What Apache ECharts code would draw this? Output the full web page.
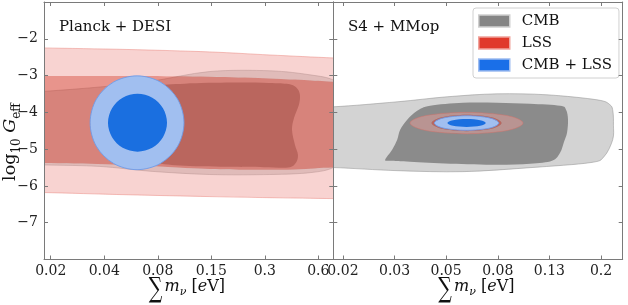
<!DOCTYPE html>
<html><head><meta charset="utf-8">
<script src="https://cdn.jsdelivr.net/npm/echarts@6/dist/echarts.min.js"></script>
<style>html,body{margin:0;padding:0;background:#fff}#c{width:628px;height:305px}</style>
</head><body><div id="c"></div>
<script>
// ---------------- data ----------------
const xRangeLeft = [0.01836, 0.726];
const xRangeRight = [0.01835, 0.2427];
const yRange = [-8, -1];
const leftTicks = [0.02, 0.0395, 0.078, 0.154, 0.304, 0.6];
const leftTickLabels = ['0.02', '0.04', '0.08', '0.15', '0.3', '0.6'];
const rightTicks = [0.02, 0.0317, 0.0502, 0.0796, 0.1262, 0.2];
const rightTickLabels = ['0.02', '0.03', '0.05', '0.08', '0.13', '0.2'];
const yTicks = [-7, -6, -5, -4, -3, -2];
const panelTitles = ['Planck + DESI', 'S4 + MMop'];
const legendNames = ['CMB', 'LSS', 'CMB + LSS'];

// contour outlines: [sum m_nu (eV), log10 G_eff]
// Planck + DESI
const cmb2Left = [[0.008,-3.55],[0.01836,-3.43],[0.0374,-3.31],[0.0706,-3.16],[0.151,-2.89],[0.324,-2.87],[0.54,-2.98],[0.726,-3.12],[0.86,-3.45],[0.92,-4.3],[0.86,-5.15],[0.726,-5.5],[0.54,-5.64],[0.324,-5.69],[0.151,-5.69],[0.0706,-5.6],[0.0374,-5.47],[0.01836,-5.43],[0.008,-5.41]];
const cmb1Left = [[0.075,-3.30],[0.11,-3.22],[0.2,-3.19],[0.32,-3.2],[0.41,-3.23],[0.455,-3.33],[0.475,-3.52],[0.469,-3.79],[0.4406,-4.15],[0.4295,-4.47],[0.4458,-4.88],[0.4632,-5.15],[0.4515,-5.37],[0.4085,-5.5],[0.3,-5.49],[0.2,-5.48],[0.11,-5.45],[0.075,-5.35],[0.058,-5.0],[0.053,-4.3],[0.058,-3.65]];
const lss2Left = [[0.01,-2.22],[0.01836,-2.248],[0.0527,-2.29],[0.151,-2.357],[0.324,-2.44],[0.726,-2.52],[1.3,-2.56],[1.3,-6.37],[0.726,-6.345],[0.324,-6.32],[0.151,-6.29],[0.0527,-6.24],[0.01836,-6.18],[0.01,-6.16]];
const lss1Left = [[0.01,-3.0],[0.01836,-3.01],[0.06,-3.01],[0.15,-3.03],[0.3,-3.07],[0.5,-3.12],[0.726,-3.17],[1.3,-3.24],[1.3,-5.5],[0.726,-5.5],[0.45,-5.55],[0.25,-5.56],[0.151,-5.54],[0.08,-5.47],[0.04,-5.41],[0.01836,-5.376],[0.01,-5.36]];
const both2Left = [[0.1088,-4.283],[0.1004,-3.645],[0.0807,-3.178],[0.0599,-3.008],[0.0444,-3.178],[0.0357,-3.645],[0.0330,-4.283],[0.0357,-4.920],[0.0444,-5.387],[0.0599,-5.558],[0.0807,-5.387],[0.1004,-4.920]];
const both1Left = [[0.0877,-4.283],[0.0833,-3.889],[0.0727,-3.602],[0.0603,-3.496],[0.0499,-3.602],[0.0436,-3.889],[0.0414,-4.283],[0.0436,-4.676],[0.0499,-4.964],[0.0603,-5.069],[0.0727,-4.964],[0.0833,-4.676]];
// S4 + MMop
const cmb2Right = [[0.012,-3.87],[0.01834,-3.849],[0.03245,-3.713],[0.0507,-3.577],[0.0791,-3.496],[0.1236,-3.523],[0.193,-3.659],[0.2167,-3.794],[0.2225,-3.984],[0.2235,-4.35],[0.222,-4.744],[0.2054,-5.205],[0.1813,-5.368],[0.1062,-5.503],[0.0584,-5.612],[0.03245,-5.585],[0.01834,-5.50],[0.012,-5.48]];
const cmb1Right = [[0.02915,-5.287],[0.03102,-5.015],[0.03245,-4.744],[0.03332,-4.473],[0.03548,-4.201],[0.03878,-3.957],[0.04354,-3.821],[0.0584,-3.740],[0.0791,-3.740],[0.1062,-3.767],[0.1388,-3.821],[0.1464,-3.930],[0.1490,-4.201],[0.1477,-4.554],[0.1438,-4.798],[0.1388,-5.097],[0.1292,-5.314],[0.1062,-5.395],[0.0791,-5.422],[0.0521,-5.395],[0.03643,-5.341],[0.03049,-5.314]];
const lss2Right = [[0.0997,-4.291],[0.0861,-4.086],[0.0603,-4.001],[0.0422,-4.086],[0.0364,-4.291],[0.0422,-4.496],[0.0603,-4.581],[0.0861,-4.496]];
const lss1Right = [[0.0823,-4.29],[0.0752,-4.133],[0.0603,-4.068],[0.0484,-4.133],[0.0441,-4.29],[0.0484,-4.447],[0.0603,-4.512],[0.0752,-4.447]];
const both2Right = [[0.0803,-4.29],[0.0738,-4.15],[0.0603,-4.092],[0.0492,-4.15],[0.0452,-4.29],[0.0492,-4.43],[0.0603,-4.488],[0.0738,-4.43]];
const both1Right = [[0.0715,-4.29],[0.068,-4.213],[0.0603,-4.18],[0.0534,-4.213],[0.0508,-4.29],[0.0534,-4.367],[0.0603,-4.40],[0.068,-4.367]];

// ---------------- styles ----------------
const FONT = 'DejaVu Serif';
const AX = '#7a7a7a';
const C = {
  cmb2: '#d3d3d3', cmb1: '#8b8b8b',
  lss2: 'rgba(240,158,154,0.455)', lss1: 'rgba(217,78,65,0.605)',
  both2: '#a1bff0', both1: '#1a6fe0',
  cmb2Line: 'rgba(140,140,140,0.55)', lss2Line: 'rgba(230,110,100,0.45)', both2Line: '#6f9be6'
};

function pathFor(pts, positive) {
  let a = 0;
  for (let i = 0; i < pts.length; i++) {
    const p = pts[i], q = pts[(i + 1) % pts.length];
    a += p[0] * q[1] - q[0] * p[1];
  }
  if ((a > 0) !== positive) pts = pts.slice().reverse();
  const n = pts.length;
  let d = 'M' + pts[0][0] + ',' + pts[0][1];
  for (let i = 0; i < n; i++) {
    const p0 = pts[(i - 1 + n) % n], p1 = pts[i], p2 = pts[(i + 1) % n], p3 = pts[(i + 2) % n];
    const c1x = p1[0] + (p2[0] - p0[0]) / 6, c1y = p1[1] + (p2[1] - p0[1]) / 6;
    const c2x = p2[0] - (p3[0] - p1[0]) / 6, c2y = p2[1] - (p3[1] - p1[1]) / 6;
    d += 'C' + c1x + ',' + c1y + ' ' + c2x + ',' + c2y + ' ' + p2[0] + ',' + p2[1];
  }
  return d + 'Z';
}

function contour(name, gi, outline, hole, fill, line) {
  return {
    type: 'custom', name: name, coordinateSystem: 'cartesian2d',
    xAxisIndex: gi * 2, yAxisIndex: gi * 2, clip: true, silent: true,
    data: [0], itemStyle: { color: fill },
    renderItem: function (params, api) {
      const px = pts => pts.map(p => api.coord([Math.log10(p[0]), p[1]]));
      const o = px(outline);
      let d = pathFor(o, true);
      if (hole) d += pathFor(px(hole), false);
      const children = [{ type: 'path', shape: { pathData: d }, style: { fill: fill, stroke: null } }];
      if (line) children.push({ type: 'path', shape: { pathData: pathFor(o, true) }, style: { fill: null, stroke: line, lineWidth: 0.9 } });
      return { type: 'group', children: children };
    }
  };
}

function fmtTicks(ticks, labels) {
  return function (v) {
    for (let i = 0; i < ticks.length; i++) if (Math.abs(Math.log10(ticks[i]) - v) < 1e-6) return labels[i];
    return '';
  };
}
function xAxisDef(gi, range, ticks, labels, pos, show) {
  const vals = ticks.map(t => Math.log10(t));
  return {
    type: 'value', gridIndex: gi, position: pos, min: Math.log10(range[0]), max: Math.log10(range[1]), z: 10,
    axisLine: { show: true, onZero: false, lineStyle: { color: AX, width: 1 } },
    axisTick: { show: true, inside: true, length: 4, customValues: vals, lineStyle: { color: AX, width: 1 } },
    axisLabel: { show: show, customValues: vals, formatter: fmtTicks(ticks, labels), fontFamily: FONT, fontSize: 14, color: '#222', margin: 5 },
    splitLine: { show: false }, minorTick: { show: false }
  };
}
function yAxisDef(gi, pos, show) {
  return {
    type: 'value', gridIndex: gi, position: pos, min: yRange[0], max: yRange[1], z: 10,
    axisLine: { show: true, onZero: false, lineStyle: { color: AX, width: 1 } },
    axisTick: { show: true, inside: true, length: 4, customValues: yTicks, lineStyle: { color: AX, width: 1 } },
    axisLabel: { show: show, customValues: yTicks, formatter: v => String(v).replace('-', '\u2212'), fontFamily: FONT, fontSize: 14, color: '#222', margin: 6 },
    splitLine: { show: false }
  };
}

const series = [];
[[cmb2Left, cmb1Left, lss2Left, lss1Left, both2Left, both1Left],
 [cmb2Right, cmb1Right, lss2Right, lss1Right, both2Right, both1Right]].forEach((s, gi) => {
  series.push(contour(legendNames[0], gi, s[0], null, C.cmb2, C.cmb2Line));
  series.push(contour(legendNames[0], gi, s[1], null, C.cmb1, null));
  series.push(contour(legendNames[1], gi, s[2], s[3], C.lss2, C.lss2Line));
  series.push(contour(legendNames[1], gi, s[3], null, C.lss1, null));
  series.push(contour(legendNames[2], gi, s[4], null, C.both2, C.both2Line));
  series.push(contour(legendNames[2], gi, s[5], null, C.both1, null));
});

const richX = {
  m: { fontFamily: FONT, fontStyle: 'italic', fontSize: 16, fill: '#111', verticalAlign: 'bottom', padding: [0, 0, 3, 0] },
  sub: { fontFamily: FONT, fontStyle: 'italic', fontSize: 11, fill: '#111', verticalAlign: 'bottom', padding: [0, 0, 0, 0] },
  n: { fontFamily: FONT, fontSize: 16, fill: '#111', verticalAlign: 'bottom', padding: [0, 0, 3, 0] }
};
function xTitle(cx) {
  return {
    type: 'group', x: cx, y: 0, silent: true,
    children: [
      { type: 'text', x: -33, y: 289.5, scaleY: 1.45, style: { text: '\u2211', fontFamily: FONT, fontSize: 19, fill: '#111', align: 'center', verticalAlign: 'middle' } },
      { type: 'text', x: -24, y: 298, style: { text: '{m|m}{sub|\u03bd}{n| [}{m|e}{n|V]}', rich: richX, align: 'left', verticalAlign: 'bottom' } }
    ]
  };
}

const option = {
  animation: false,
  backgroundColor: '#ffffff',
  grid: [
    { left: 44, top: 2, width: 289.3, height: 257.5 },
    { left: 333.3, top: 2, width: 289.4, height: 257.5 }
  ],
  xAxis: [
    xAxisDef(0, xRangeLeft, leftTicks, leftTickLabels, 'bottom', true),
    xAxisDef(0, xRangeLeft, leftTicks, leftTickLabels, 'top', false),
    xAxisDef(1, xRangeRight, rightTicks, rightTickLabels, 'bottom', true),
    xAxisDef(1, xRangeRight, rightTicks, rightTickLabels, 'top', false)
  ],
  yAxis: [yAxisDef(0, 'left', true), yAxisDef(0, 'right', false), yAxisDef(1, 'left', false), yAxisDef(1, 'right', false)],
  legend: {
    left: 473, top: 8, orient: 'vertical', selectedMode: false,
    padding: [5, 7, 5, 5], itemWidth: 31, itemHeight: 12, itemGap: 6,
    backgroundColor: 'rgba(255,255,255,0.85)', borderColor: '#d0d0d0', borderWidth: 1, borderRadius: 3,
    textStyle: { fontFamily: FONT, fontSize: 15, color: '#111', padding: [0, 0, 0, 7], lineHeight: 16 },
    data: [
      { name: legendNames[0], icon: 'rect', itemStyle: { color: '#858585', borderColor: '#cfcfcf', borderWidth: 1.5 } },
      { name: legendNames[1], icon: 'rect', itemStyle: { color: '#e0392b', borderColor: '#f0a39c', borderWidth: 1.5 } },
      { name: legendNames[2], icon: 'rect', itemStyle: { color: '#1a6fe8', borderColor: '#9dbcf0', borderWidth: 1.5 } }
    ]
  },
  graphic: [
    { type: 'text', x: 59, y: 27.5, silent: true, style: { text: panelTitles[0], fontFamily: FONT, fontSize: 15, fill: '#111', verticalAlign: 'middle' } },
    { type: 'text', x: 348, y: 27.5, silent: true, style: { text: panelTitles[1], fontFamily: FONT, fontSize: 15, fill: '#111', verticalAlign: 'middle' } },
    xTitle(188.5),
    xTitle(478),
    { type: 'text', x: 12, y: 142, rotation: Math.PI / 2, silent: true,
      style: { text: '{t|log}{sub|10}{t| }{i|G}{sub|eff}', align: 'center', verticalAlign: 'middle',
        rich: {
          t: { fontFamily: FONT, fontSize: 17.5, fill: '#111', verticalAlign: 'bottom', padding: [0, 0, 4, 0] },
          sub: { fontFamily: FONT, fontSize: 12, fill: '#111', verticalAlign: 'bottom' },
          i: { fontFamily: FONT, fontStyle: 'italic', fontSize: 17.5, fill: '#111', verticalAlign: 'bottom', padding: [0, 0, 4, 0] }
        } } }
  ],
  series: series
};

const chart = echarts.init(document.getElementById('c'), null, { renderer: 'canvas', width: 628, height: 305 });
chart.setOption(option);
</script>
</body></html>
